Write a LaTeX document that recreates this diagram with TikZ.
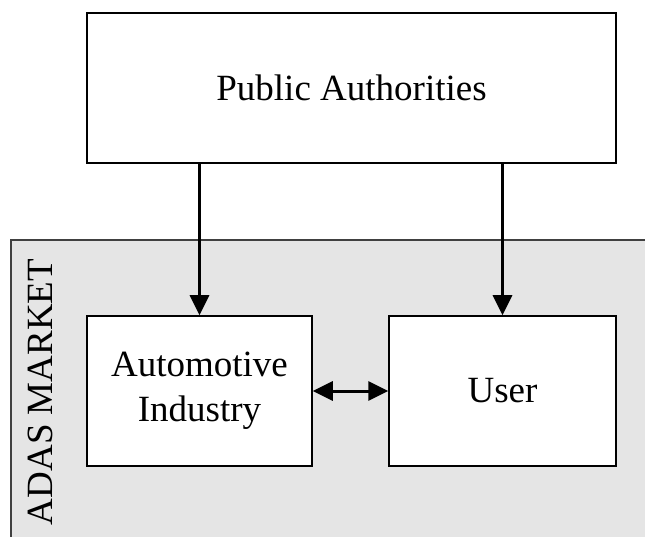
\documentclass[tikz,border=0pt]{standalone}
\usepackage{fontspec}
\setmainfont{Liberation Serif}
\usetikzlibrary{arrows.meta}
\begin{document}
\begin{tikzpicture}[x=1pt,y=-1pt,
  box/.style={draw=black, line width=1.5pt, fill=white, rectangle, inner sep=0pt,
    align=center, font=\fontsize{37}{45}\selectfont},
  arr/.style={line width=3pt, -{Triangle[length=20pt,width=19pt]}},
  darr/.style={line width=3pt, {Triangle[length=20pt,width=19pt]}-{Triangle[length=20pt,width=19pt]}},
]
\useasboundingbox (0,0) rectangle (645,537);
\fill[white] (0,0) rectangle (645,537);
% market area
\begin{scope}
  \clip (0,0) rectangle (645,537);
  \draw[draw=black!75, fill=black!10, line width=2pt] (11,240) rectangle (670,570);
\end{scope}
\node[rotate=90, font=\fontsize{37}{45}\selectfont] (market) at (40,392) {ADAS MARKET};
% actors
\node[box, minimum width=529pt, minimum height=150pt] (pub) at (351.5,88) {Public Authorities};
\node[box, minimum width=225pt, minimum height=150pt] (auto) at (199.5,391) {Automotive\\Industry};
\node[box, minimum width=227pt, minimum height=150pt] (user) at (502.5,391) {User};
% relations
\draw[arr] (auto.north |- pub.south) -- (auto.north);
\draw[arr] (user.north |- pub.south) -- (user.north);
\draw[darr] (auto.east) -- (user.west);
\end{tikzpicture}
\end{document}
